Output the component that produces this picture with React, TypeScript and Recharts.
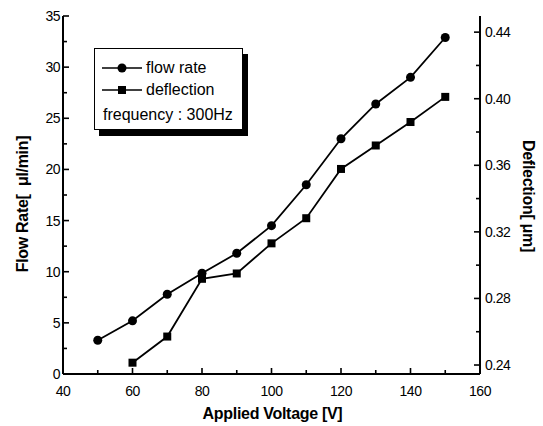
import { LineChart, Line, XAxis, YAxis, Legend } from 'recharts';

// values
const voltage = [50, 60, 70, 80, 90, 100, 110, 120, 130, 140, 150];
const flowRate = [3.3, 5.2, 7.8, 9.85, 11.8, 14.5, 18.5, 23.0, 26.4, 29.0, 32.9];
const deflection = [null, 0.2414, 0.2571, 0.2918, 0.295, 0.3131, 0.3282, 0.3578, 0.3719, 0.386, 0.4011];

const xTicks = [40, 50, 60, 70, 80, 90, 100, 110, 120, 130, 140, 150, 160];
const flowTicks = [0, 2.5, 5, 7.5, 10, 12.5, 15, 17.5, 20, 22.5, 25, 27.5, 30, 32.5, 35];
const deflTicks = [0.24, 0.26, 0.28, 0.3, 0.32, 0.34, 0.36, 0.38, 0.4, 0.42, 0.44];
const legendOrder = ['flow', 'defl'];

const data = voltage.map((v, i) => ({ voltage: v, flow: flowRate[i], defl: deflection[i] }));

const FONT = '"Liberation Sans", Arial, sans-serif';
const INK = '#000';

const BottomTick = ({ x, y, payload }: any) => {
  const major = payload.value % 20 === 0;
  return (
    <g>
      <line x1={x} y1={y} x2={x} y2={y - (major ? 6 : 4)} stroke={INK} strokeWidth={1.6} />
      {major && (
        <text x={x} y={y + 22} textAnchor="middle" fontSize={14} fontFamily={FONT} letterSpacing={-0.5} fill={INK}>
          {payload.value}
        </text>
      )}
    </g>
  );
};

const TopTick = ({ x, y, payload }: any) => (
  <line x1={x} y1={y} x2={x} y2={y + (payload.value % 20 === 0 ? 6 : 4)} stroke={INK} strokeWidth={1.6} />
);

const LeftTick = ({ x, y, payload }: any) => {
  const major = payload.value % 5 === 0;
  return (
    <g>
      <line x1={x} y1={y} x2={x + (major ? 6 : 4)} y2={y} stroke={INK} strokeWidth={1.6} />
      {major && (
        <text x={x - 3} y={y + 5} textAnchor="end" fontSize={14} fontFamily={FONT} letterSpacing={-0.5} fill={INK}>
          {payload.value}
        </text>
      )}
    </g>
  );
};

const RightTick = ({ x, y, payload, index }: any) => {
  const major = index % 2 === 0;
  return (
    <g>
      <line x1={x} y1={y} x2={x - (major ? 6 : 4)} y2={y} stroke={INK} strokeWidth={1.6} />
      {major && (
        <text x={x + 5} y={y + 5} textAnchor="start" fontSize={14} fontFamily={FONT} letterSpacing={-0.5} fill={INK}>
          {Number(payload.value).toFixed(2)}
        </text>
      )}
    </g>
  );
};

const titleStyle = { fontSize: 16, fontWeight: 700, fontFamily: FONT, fill: INK, letterSpacing: -0.3 };

const LeftTitle = ({ viewBox }: any) => {
  const vb = viewBox || { x: 0, y: 16, width: 63, height: 358 };
  const cx = vb.x + vb.width / 2 - 9.5;
  const cy = vb.y + vb.height / 2 + 9;
  return (
    <text x={cx} y={cy} textAnchor="middle" dominantBaseline="central" transform={`rotate(-90, ${cx}, ${cy})`} {...titleStyle}>
      {'Flow Rate[\u00a0\u00a0μl/min]'}
    </text>
  );
};

const RightTitle = ({ viewBox }: any) => {
  const vb = viewBox || { x: 480, y: 16, width: 63, height: 358 };
  const cx = vb.x + vb.width / 2 + 16.5;
  const cy = vb.y + vb.height / 2 + 1;
  return (
    <text x={cx} y={cy} textAnchor="middle" dominantBaseline="central" transform={`rotate(90, ${cx}, ${cy})`} {...titleStyle}>
      {'Deflection[\u00a0μm]'}
    </text>
  );
};

const BottomTitle = ({ viewBox }: any) => {
  const vb = viewBox || { x: 63, y: 374, width: 417, height: 52 };
  const cx = vb.x + vb.width / 2 + 1;
  const cy = vb.y + 39;
  return (
    <text x={cx} y={cy} textAnchor="middle" dominantBaseline="central" {...titleStyle}>
      Applied Voltage [V]
    </text>
  );
};

const SquareDot = (props: any) => {
  const { cx, cy, index } = props;
  if (cx == null || cy == null) return <g key={`sq-${index}`} />;
  return <rect key={`sq-${index}`} x={cx - 4} y={cy - 4} width={8} height={8} fill={INK} />;
};

const LegendSymbol = ({ square }: { square: boolean }) => (
  <svg width={40} height={12} style={{ display: 'block' }}>
    <line x1={0} y1={6} x2={40} y2={6} stroke={INK} strokeWidth={1.5} />
    {square ? <rect x={16} y={2} width={8} height={8} fill={INK} /> : <circle cx={20} cy={6} r={4.5} fill={INK} />}
  </svg>
);

const renderLegend = (props: any) => {
  const items = (props.payload || [])
    .map((p: any) => ({ name: p.value, key: p.dataKey, square: p.dataKey === 'defl' }))
    .sort((a: any, b: any) => legendOrder.indexOf(a.key) - legendOrder.indexOf(b.key));
  return (
    <div
      style={{
        position: 'relative',
        width: 147,
        height: 80,
        border: '1px solid #000',
        background: '#fff',
        boxShadow: '5px 6px 0 #000',
        fontFamily: FONT,
        fontSize: 16,
        color: INK,
      }}
    >
      {items.map((it: any, i: number) => (
        <div key={it.name} style={{ position: 'absolute', left: 7, top: 9 + i * 22, display: 'flex', alignItems: 'center', height: 20 }}>
          <LegendSymbol square={it.square} />
          <span style={{ marginLeft: 4, whiteSpace: 'nowrap' }}>{it.name}</span>
        </div>
      ))}
      <div style={{ position: 'absolute', left: 8, top: 56, whiteSpace: 'nowrap', lineHeight: '20px' }}>frequency : 300Hz</div>
    </div>
  );
};

export default function App() {
  return (
    <div style={{ position: 'absolute', left: 0, top: 0, width: 543, height: 426, background: '#fff' }}>
      <LineChart width={543} height={426} data={data} margin={{ top: 16, right: 0, bottom: 0, left: 0 }}>
        <XAxis
          dataKey="voltage"
          type="number"
          domain={[40, 160]}
          ticks={xTicks}
          allowDataOverflow
          height={52}
          tickSize={0}
          tickMargin={0}
          tickLine={false}
          axisLine={{ stroke: INK, strokeWidth: 2 }}
          tick={<BottomTick />}
          interval={0}
          label={{ content: BottomTitle }}
        />
        <XAxis
          xAxisId="top"
          orientation="top"
          dataKey="voltage"
          type="number"
          domain={[40, 160]}
          ticks={xTicks}
          allowDataOverflow
          height={0}
          tickSize={0}
          tickMargin={0}
          tickLine={false}
          axisLine={{ stroke: INK, strokeWidth: 2 }}
          tick={<TopTick />}
          interval={0}
        />
        <YAxis
          yAxisId="flow"
          domain={[0, 35]}
          ticks={flowTicks}
          allowDataOverflow
          width={63}
          tickSize={0}
          tickMargin={0}
          tickLine={false}
          axisLine={{ stroke: INK, strokeWidth: 2 }}
          tick={<LeftTick />}
          interval={0}
          label={{ content: LeftTitle }}
        />
        <YAxis
          yAxisId="defl"
          orientation="right"
          domain={[0.2346, 0.4497]}
          ticks={deflTicks}
          allowDataOverflow
          width={63}
          tickSize={0}
          tickMargin={0}
          tickLine={false}
          axisLine={{ stroke: INK, strokeWidth: 2 }}
          tick={<RightTick />}
          interval={0}
          label={{ content: RightTitle }}
        />
        <Legend
          layout="horizontal"
          verticalAlign="middle"
          align="center"
          content={renderLegend}
          wrapperStyle={{ left: 94, top: 48, width: 149, height: 82 }}
        />
        <Line
          yAxisId="flow"
          dataKey="flow"
          name="flow rate"
          stroke={INK}
          strokeWidth={1.8}
          dot={{ r: 4.5, fill: INK, stroke: INK, strokeWidth: 0 }}
          isAnimationActive={false}
        />
        <Line
          yAxisId="defl"
          dataKey="defl"
          name="deflection"
          stroke={INK}
          strokeWidth={1.8}
          dot={<SquareDot />}
          isAnimationActive={false}
        />
      </LineChart>
    </div>
  );
}
